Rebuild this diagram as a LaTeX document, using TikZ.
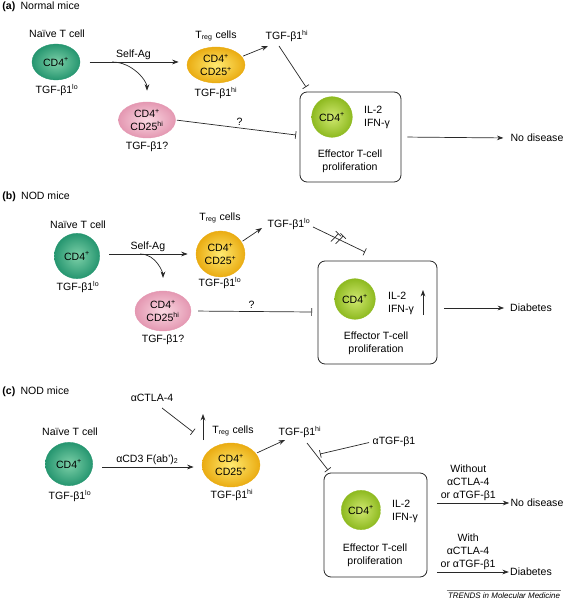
\documentclass[tikz,border=0pt]{standalone}
\usepackage{fontspec}
\setmainfont{Liberation Sans}
\usetikzlibrary{shapes.geometric, arrows.meta, decorations.markings}

\definecolor{naiveDark}{RGB}{38,150,112}
\definecolor{naiveLight}{RGB}{125,208,168}
\definecolor{tregDark}{RGB}{234,172,18}
\definecolor{tregLight}{RGB}{255,234,112}
\definecolor{pinkDark}{RGB}{228,152,178}
\definecolor{pinkLight}{RGB}{250,216,226}
\definecolor{effDark}{RGB}{142,186,32}
\definecolor{effLight}{RGB}{208,232,112}
\definecolor{lineGray}{RGB}{40,40,40}

\begin{document}
\begin{tikzpicture}[x=0.03cm, y=-0.03cm,
    every node/.style={font=\fontsize{9}{11}\selectfont, align=center, inner sep=1pt},
    cell/.style={ellipse, inner sep=0pt, minimum width=#1},
    naivecell/.style={cell=1.44cm, draw=naiveDark, line width=0.3pt, inner color=naiveLight, outer color=naiveDark},
    tregcell/.style={cell=1.74cm, draw=tregDark, line width=0.3pt, inner color=tregLight, outer color=tregDark},
    pinkcell/.style={cell=1.71cm, draw=pinkDark, line width=0.3pt, inner color=pinkLight, outer color=pinkDark},
    effcell/.style={circle, inner sep=0pt, minimum size=1.22cm, draw=effDark, line width=0.3pt, inner color=effLight, outer color=effDark},
    effbox/.style={draw=lineGray, line width=0.7pt, rounded corners=6pt},
    act/.style={draw=lineGray, line width=0.6pt, -{Stealth[length=5.5pt, width=4pt]}},
    inhib/.style={draw=lineGray, line width=0.6pt, -{Bar[width=6.5pt, line width=0.6pt]}},
    blocked/.style={postaction={decorate, decoration={markings,
        mark=at position 0.45 with {\draw[lineGray, line width=0.6pt] (-3pt,-4.5pt) -- (0pt,4.5pt);
                                      \draw[lineGray, line width=0.6pt] (1.5pt,-4.5pt) -- (4.5pt,4.5pt);}}}}
  ]
  \useasboundingbox (0,0) rectangle (566,601);

  % ---------------- (a) Normal mice ----------------
  \node[anchor=west] (titleA) at (1,7) {\textbf{(a)}\enspace Normal mice};

  % Define cells and labels
  \node (naiveLabA) at (57,34) {Naïve T cell};
  \node[naivecell, minimum height=1.08cm] (naiveA) at (56,62) {CD4\textsuperscript{+}};
  \node (naiveTgfA) at (57,90) {TGF-β1\textsuperscript{lo}};
  \node (tregLabA) at (216,36) {T\textsubscript{reg} cells};
  \node[tregcell, minimum height=1.08cm] (tregA) at (216,65) {CD4\textsuperscript{+}\\CD25\textsuperscript{+}};
  \node (tregTgfA) at (216,93) {TGF-β1\textsuperscript{hi}};
  \node (tgfA) at (287,36) {TGF-β1\textsuperscript{hi}};
  \node[pinkcell, minimum height=1.08cm] (pinkA) at (147,120) {CD4\textsuperscript{+}\\CD25\textsuperscript{hi}};
  \node (pinkTgfA) at (147,147) {TGF-β1?};
  \node[effbox, minimum width=3.03cm, minimum height=2.7cm] (boxA) at (350.5,137) {};
  \node[effcell] (effA) at (332,117) {CD4\textsuperscript{+}};
  \node[align=left] (cytoA) at (377,117) {IL-2\\IFN-γ};
  \node (procA) at (350,161) {Effector T-cell\\proliferation};
  \node (outA) at (537,138) {No disease};

  % Define free ends
  \coordinate (branchA) at (112,62);
  \coordinate (tgfInA) at (268,46);
  \coordinate (tgfOutA) at (279,46);
  \coordinate (boxTopA) at (306,87);
  \coordinate (qEndA) at (296,135);

  % Draw connectors
  \draw[act, shorten <=8pt, shorten >=7pt] (naiveA.east) -- (naiveA.east -| tregA.west) node[midway, above=1pt] {Self-Ag};
  \draw[act, shorten >=9.5pt] (branchA) to[out=0, in=90] (pinkA.north);
  \draw[act, shorten <=1pt] (tregA.18) -- (tgfInA);
  \draw[inhib] (tgfOutA) -- (boxTopA);
  \draw[inhib, shorten <=1pt] (pinkA.east) -- (qEndA) node[pos=0.53, above=1pt] {?};
  \draw[act, shorten <=5pt, shorten >=5pt] (boxA.east) -- (outA.west);

  % ---------------- (b) NOD mice ----------------
  \node[anchor=west] (titleB) at (1,197) {\textbf{(b)}\enspace NOD mice};

  % Define cells and labels
  \node (naiveLabB) at (78,225) {Naïve T cell};
  \node[naivecell, minimum width=1.36cm, minimum height=1.36cm] (naiveB) at (77,256) {CD4\textsuperscript{+}};
  \node (naiveTgfB) at (78,287) {TGF-β1\textsuperscript{lo}};
  \node (tregLabB) at (220,218) {T\textsubscript{reg} cells};
  \node[tregcell, minimum width=1.47cm, minimum height=1.38cm] (tregB) at (220.5,254) {CD4\textsuperscript{+}\\CD25\textsuperscript{+}};
  \node (tregTgfB) at (220,283) {TGF-β1\textsuperscript{lo}};
  \node (tgfB) at (289,224) {TGF-β1\textsuperscript{lo}};
  \node[pinkcell, minimum width=1.68cm, minimum height=1.2cm] (pinkB) at (163,311) {CD4\textsuperscript{+}\\CD25\textsuperscript{hi}};
  \node (pinkTgfB) at (163,340) {TGF-β1?};
  \node[effbox, minimum width=3.57cm, minimum height=3.09cm] (boxB) at (377.5,312.5) {};
  \node[effcell] (effB) at (355,299) {CD4\textsuperscript{+}};
  \node[align=left] (cytoB) at (401,303) {IL-2\\IFN-γ};
  \node (procB) at (376,343) {Effector T-cell\\proliferation};
  \node (outB) at (531,308) {Diabetes};

  % Define free ends
  \coordinate (branchB) at (140,254);
  \coordinate (tgfInB) at (262,228);
  \coordinate (tgfOutB) at (313,227);
  \coordinate (boxTopB) at (365,252);
  \coordinate (upLowB) at (423,315);
  \coordinate (upHighB) at (423,290);
  \coordinate (qEndB) at (312,312);

  % Draw connectors
  \draw[act, shorten <=8pt, shorten >=7pt] (naiveB.east |- branchB) -- (branchB -| tregB.west) node[midway, above=1pt] {Self-Ag};
  \draw[act, shorten >=11pt] (branchB) to[out=0, in=90] (pinkB.north);
  \draw[act, shorten <=1pt] (tregB.30) -- (tgfInB);
  \draw[inhib, blocked] (tgfOutB) -- (boxTopB);
  \draw[inhib, shorten <=6pt] (pinkB.east) -- (qEndB) node[pos=0.5, above=1pt] {?};
  \draw[act] (upLowB) -- (upHighB);
  \draw[act, shorten <=6pt, shorten >=4pt] (boxB.east |- outB) -- (outB.west);

  % ---------------- (c) NOD mice ----------------
  \node[anchor=west] (titleC) at (1,392) {\textbf{(c)}\enspace NOD mice};

  % Define cells and labels
  \node (ctlaC) at (152,398) {αCTLA-4};
  \node (naiveLabC) at (70,432) {Naïve T cell};
  \node[naivecell, minimum width=1.42cm, minimum height=1.3cm] (naiveC) at (69,464) {CD4\textsuperscript{+}};
  \node (naiveTgfC) at (70,496) {TGF-β1\textsuperscript{lo}};
  \node (tregLabC) at (233,431) {T\textsubscript{reg} cells};
  \node[tregcell, minimum height=1.32cm] (tregC) at (231,465) {CD4\textsuperscript{+}\\CD25\textsuperscript{+}};
  \node (tregTgfC) at (232,495) {TGF-β1\textsuperscript{hi}};
  \node (tgfC) at (300,432) {TGF-β1\textsuperscript{hi}};
  \node (antiTgfC) at (394,442) {αTGF-β1};
  \node[effbox, minimum width=3.09cm, minimum height=3.12cm] (boxC) at (375.5,525) {};
  \node[effcell, minimum size=1.18cm] (effC) at (361,510) {CD4\textsuperscript{+}};
  \node[align=left] (cytoC) at (405,511) {IL-2\\IFN-γ};
  \node (procC) at (375,555) {Effector T-cell\\proliferation};
  \node (noDisC) at (537,503) {No disease};
  \node (diabC) at (531,572) {Diabetes};

  % Define free ends
  \coordinate (ctlaFootC) at (162,408);
  \coordinate (ctlaEndC) at (193,432);
  \coordinate (upLowC) at (203,440);
  \coordinate (upHighC) at (203,414);
  \coordinate (cdLineC) at (0,467);
  \coordinate (tgfInC) at (285,440);
  \coordinate (tgfOutC) at (307,443);
  \coordinate (boxTopC) at (328,470);
  \coordinate (antiEndC) at (320,454);

  % Draw connectors
  \draw[inhib] (ctlaFootC) -- (ctlaEndC);
  \draw[act] (upLowC) -- (upHighC);
  \draw[act, shorten <=8pt, shorten >=7pt] (naiveC.east |- cdLineC) -- (tregC.west |- cdLineC) node[midway, above=1pt] {αCD3 F(ab’)\textsubscript{2}};
  \draw[act, shorten <=1pt] (tregC.25) -- (tgfInC);
  \draw[inhib] (tgfOutC) -- (boxTopC);
  \draw[inhib, shorten <=2pt] (antiTgfC.west) -- (antiEndC);
  \draw[act, shorten <=8pt] (boxC.east |- noDisC) -- (noDisC.west) node[midway, above=1pt] {Without\\αCTLA-4\\or αTGF-β1};
  \draw[act, shorten <=8pt] (boxC.east |- diabC) -- (diabC.west) node[midway, above=1pt] {With\\αCTLA-4\\or αTGF-β1};

  % Source note
  \node[font=\fontsize{6.8}{8}\selectfont\itshape] (srcNote) at (504,596) {TRENDS in Molecular Medicine};
  \draw[gray, line width=0.4pt] ([yshift=1.5pt]srcNote.north west) -- ([yshift=1.5pt]srcNote.north east);
\end{tikzpicture}
\end{document}
